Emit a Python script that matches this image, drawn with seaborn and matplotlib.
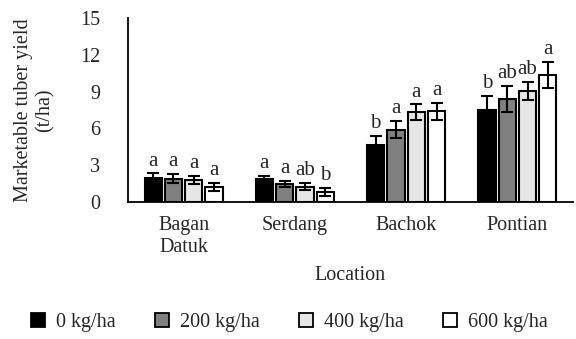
import matplotlib
matplotlib.use("Agg")
import matplotlib.pyplot as plt
import seaborn as sns
import pandas as pd
from matplotlib.lines import Line2D

locations = ["Bagan\nDatuk", "Serdang", "Bachok", "Pontian"]
rates = ["0 kg/ha", "200 kg/ha", "400 kg/ha", "600 kg/ha"]

yield_0 = [1.95, 1.85, 4.62, 7.54]
yield_200 = [1.9, 1.45, 5.9, 8.38]
yield_400 = [1.8, 1.25, 7.3, 9.03]
yield_600 = [1.25, 0.82, 7.38, 10.35]

err_0 = [0.38, 0.3, 0.8, 1.14]
err_200 = [0.38, 0.25, 0.7, 1.08]
err_400 = [0.35, 0.3, 0.65, 0.73]
err_600 = [0.33, 0.35, 0.72, 1.08]

letters_0 = ["a", "a", "b", "b"]
letters_200 = ["a", "a", "a", "ab"]
letters_400 = ["a", "ab", "a", "ab"]
letters_600 = ["a", "b", "a", "a"]

colors = ["#000000", "#808080", "#e6e6e6", "#ffffff"]

sns.set_style("white")
plt.rcParams["font.family"] = ["Liberation Serif", "DejaVu Serif"]

FS = 14.5

yields = [yield_0, yield_200, yield_400, yield_600]
errs = [err_0, err_200, err_400, err_600]
letters = [letters_0, letters_200, letters_400, letters_600]

rows = []
for r, ys in zip(rates, yields):
    for loc, y in zip(locations, ys):
        rows.append({"Location": loc, "Rate": r, "Yield": y})
df = pd.DataFrame(rows)

fig = plt.figure(figsize=(5.76, 3.39), dpi=100)
ax = fig.add_axes([0.222, 0.404, 0.773, 0.543])

sns.barplot(data=df, x="Location", y="Yield", hue="Rate", order=locations,
            hue_order=rates, palette=colors, errorbar=None, width=0.73,
            gap=0.16, edgecolor="black", linewidth=1.5, ax=ax, legend=False)

patches = [p for p in ax.patches if p.get_height() > 0]
patches = sorted(patches, key=lambda p: p.get_x())
k = 0
for li in range(len(locations)):
    for hi in range(len(rates)):
        p = patches[k]
        k += 1
        xc = p.get_x() + p.get_width() / 2
        y = yields[hi][li]
        e = errs[hi][li]
        ax.errorbar(xc, y, yerr=e, fmt="none", ecolor="black",
                    elinewidth=1.5, capsize=4.5, capthick=1.5)
        ax.annotate(letters[hi][li], (xc, y + e), xytext=(0, 2),
                    textcoords="offset points", ha="center", va="bottom",
                    fontsize=15)

ax.set_ylim(0, 15)
ax.set_xlim(-0.5, 3.5)
ax.set_yticks([0, 3, 6, 9, 12, 15])
ax.tick_params(axis="y", length=0, pad=20, labelsize=FS)
ax.tick_params(axis="x", length=0, pad=10, labelsize=FS)
ax.set_ylabel("Marketable tuber yield\n(t/ha)", fontsize=FS, labelpad=18,
              linespacing=1.15)
ax.set_xlabel("Location", fontsize=FS, labelpad=7)
for s in ["top", "right"]:
    ax.spines[s].set_visible(False)
for s in ["left", "bottom"]:
    ax.spines[s].set_color("black")
    ax.spines[s].set_linewidth(1.3)

handles = [Line2D([], [], marker="s", linestyle="none", markersize=10,
                  markerfacecolor=c, markeredgecolor="black",
                  markeredgewidth=1.3) for c in colors]
fig.legend(handles, rates, loc="center", bbox_to_anchor=(0.5, 0.05), ncol=4,
           frameon=False, fontsize=FS, handletextpad=0.4, columnspacing=1.8,
           handlelength=1.0)

fig.savefig("out.png", dpi=100)
